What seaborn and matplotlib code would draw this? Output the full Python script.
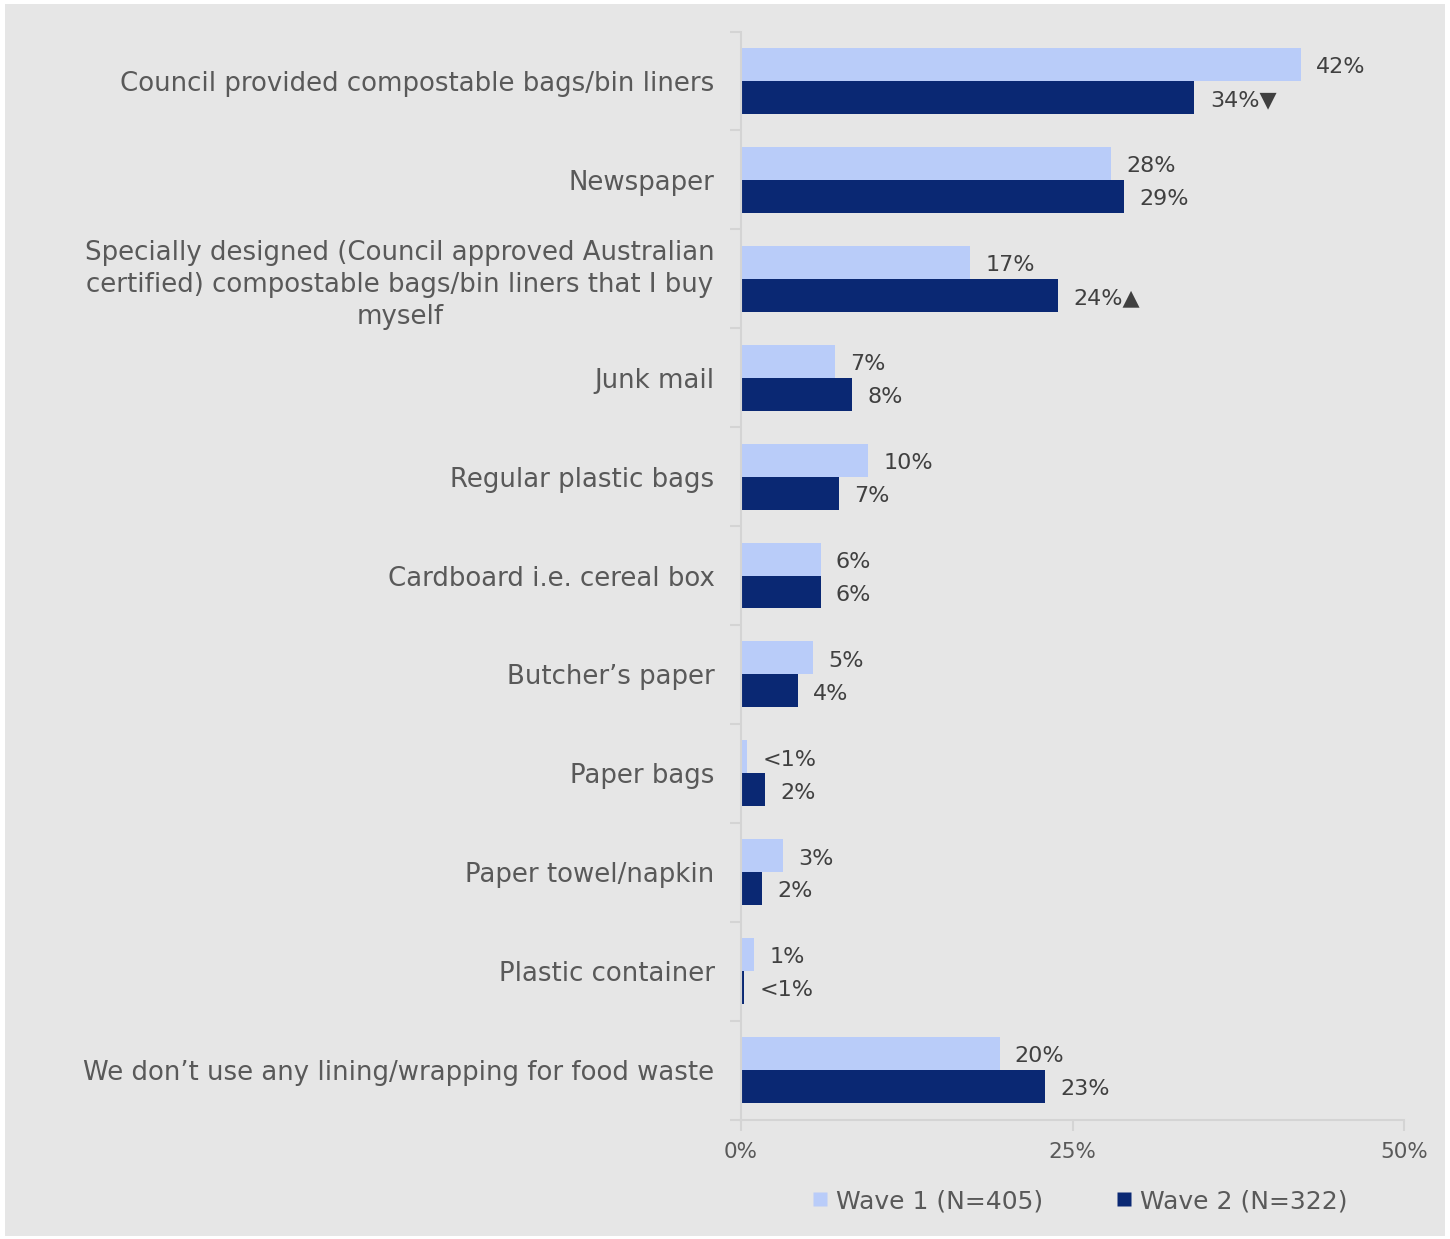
import matplotlib
matplotlib.use("Agg")
import matplotlib.pyplot as plt
from matplotlib.patches import Rectangle
from matplotlib.lines import Line2D
import seaborn as sns
import pandas as pd

categories = [
    "Council provided compostable bags/bin liners",
    "Newspaper",
    "Specially designed (Council approved Australian\ncertified) compostable bags/bin liners that I buy\nmyself",
    "Junk mail",
    "Regular plastic bags",
    "Cardboard i.e. cereal box",
    "Butcher\u2019s paper",
    "Paper bags",
    "Paper towel/napkin",
    "Plastic container",
    "We don\u2019t use any lining/wrapping for food waste",
]
wave1 = [42.2, 27.9, 17.3, 7.1, 9.6, 6.0, 5.4, 0.45, 3.2, 1.0, 19.5]
wave2 = [34.2, 28.9, 23.9, 8.4, 7.4, 6.0, 4.3, 1.8, 1.6, 0.25, 22.9]
# significance markers for Wave 2 (change vs Wave 1)
wave2_sig = ["\u25BC", "", "\u25B2", "", "", "", "", "", "", "", ""]
series_names = ["Wave 1 (N=405)", "Wave 2 (N=322)"]
x_ticks = [0, 25, 50]
x_tick_labels = ["0%", "25%", "50%"]

light_blue = "#b9ccf9"
navy = "#0a2873"
bg = "#e6e6e6"
text_grey = "#595959"
value_grey = "#404040"
axis_grey = "#d4d4d4"

df = pd.DataFrame({
    "category": categories * 2,
    "value": wave1 + wave2,
    "wave": [series_names[0]] * len(categories) + [series_names[1]] * len(categories),
})

sns.set_theme(style="white")
plt.rcParams["font.family"] = ["DejaVu Sans"]

fig = plt.figure(figsize=(14.5, 12.39), dpi=100, facecolor="white")
fig.patches.append(Rectangle((5 / 1450, 3 / 1239), 1440 / 1450, 1232 / 1239,
                             transform=fig.transFigure, facecolor=bg,
                             edgecolor="none", zorder=-10))

ax = fig.add_axes([741 / 1450, 1 - 1119.5 / 1239, 663 / 1450, 1088 / 1239])
ax.set_facecolor(bg)

sns.barplot(data=df, y="category", x="value", hue="wave", order=categories,
            hue_order=series_names, palette=[light_blue, navy], orient="h",
            width=0.667, legend=False, ax=ax, saturation=1, linewidth=0)


def fmt(v):
    return "<1%" if v < 1 else f"{round(v):d}%"


labels1 = [fmt(v) for v in wave1]
labels2 = [fmt(v) + s for v, s in zip(wave2, wave2_sig)]
texts = []
texts += ax.bar_label(ax.containers[0], labels=labels1, padding=11,
                      fontsize=16, color=value_grey)
texts += ax.bar_label(ax.containers[1], labels=labels2, padding=11,
                      fontsize=16, color=value_grey)
# nudge value labels slightly below the bar centre line
for t in texts:
    t.xyann = (t.xyann[0], -2)

ax.set_xlim(0, 50)
ax.set_ylim(len(categories) - 0.5, -0.5)
ax.set_xticks(x_ticks)
ax.set_xticklabels(x_tick_labels)
ax.set_xlabel("")
ax.set_ylabel("")

ax.set_yticks(range(len(categories)))
ax.set_yticklabels(categories, fontsize=18.7, color=text_grey,
                   multialignment="center", linespacing=1.3)
ax.set_yticks([i - 0.5 for i in range(len(categories) + 1)], minor=True)
ax.tick_params(axis="y", which="major", left=False, length=0, pad=19)
ax.tick_params(axis="y", which="minor", left=True, length=8, width=1.5,
               color=axis_grey, direction="out")
ax.tick_params(axis="x", which="major", bottom=True, length=8, width=1.5,
               color=axis_grey, direction="out", labelsize=15.5,
               labelcolor=text_grey, pad=8)

for side in ["top", "right"]:
    ax.spines[side].set_visible(False)
for side in ["left", "bottom"]:
    ax.spines[side].set_color(axis_grey)
    ax.spines[side].set_linewidth(1.5)

handles = [Line2D([], [], marker="s", linestyle="none", markersize=10,
                  markerfacecolor=c, markeredgecolor="none")
           for c in (light_blue, navy)]
fig.legend(handles, series_names, loc="center", ncol=2, frameon=False,
           bbox_to_anchor=(1080 / 1450, 1 - 1201 / 1239), fontsize=18,
           labelcolor=text_grey, handlelength=0.6, handletextpad=0.35,
           columnspacing=2.9)

fig.savefig("out.png", dpi=100, facecolor="white")
